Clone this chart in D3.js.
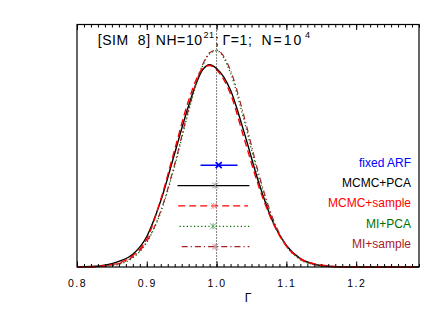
<!DOCTYPE html>
<html lang="en">
<head>
<meta charset="UTF-8">
<title>SIM 8</title>
<script src="https://d3js.org/d3.v7.min.js"></script>
<style>
    body {
        margin: 0;
        background-color: #fff;
    }
    svg {
        display: block;
        font-family: "Liberation Sans", Arial, sans-serif;
    }
    .tick text {
        font-size: 10.5px;
        letter-spacing: 1.5px;
    }
</style>
</head>
<body>
<div id="chart"></div>
<script>
    // Γ grid the curves were read on
    const gammaGrid = [0.80, 0.82, 0.84, 0.86, 0.88, 0.90, 0.92, 0.94, 0.96, 0.98, 0.99, 1.00, 1.02, 1.04,
                       1.06, 1.08, 1.10, 1.12, 1.14, 1.16, 1.18, 1.20, 1.22, 1.24, 1.26, 1.28, 1.29];

    // posterior densities
    const mcmcPca    = [0.004, 0.019, 0.07, 0.22, 0.50, 1.20, 2.60, 4.47, 6.35, 7.75, 7.95, 7.80, 6.95, 5.24,
                        3.35, 1.82, 0.85, 0.33, 0.11, 0.03, 0.008, 0, 0, 0, 0, 0, 0];
    const mcmcSample = [0.003, 0.012, 0.05, 0.16, 0.45, 1.10, 2.65, 4.62, 6.55, 7.80, 7.92, 7.75, 6.80, 5.00,
                        3.20, 1.78, 0.82, 0.33, 0.12, 0.04, 0.01, 0, 0, 0, 0, 0, 0];
    const miPca      = [0, 0.005, 0.03, 0.11, 0.36, 0.97, 2.15, 3.97, 6.13, 7.90, 8.38, 8.50, 7.62, 5.70,
                        3.56, 1.86, 0.81, 0.29, 0.09, 0.02, 0, 0, 0, 0, 0, 0, 0];
    const miSample   = [0, 0.008, 0.04, 0.13, 0.40, 1.00, 2.20, 4.05, 6.20, 7.95, 8.42, 8.52, 7.72, 5.85,
                        3.70, 1.95, 0.85, 0.30, 0.10, 0.03, 0, 0, 0, 0, 0, 0, 0];

    // error bars (best fit and interval) per method
    const methods   = ["fixed ARF", "MCMC+PCA", "MCMC+sample", "MI+PCA", "MI+sample"];
    const bestFit   = [1.003, 0.998, 0.996, 0.995, 0.998];
    const lowBound  = [0.977, 0.944, 0.945, 0.947, 0.950];
    const highBound = [1.030, 1.047, 1.045, 1.047, 1.047];
    const rowLevel  = [4.0, 3.2, 2.4, 1.6, 0.8];

    const majorTicks = [0.8, 0.9, 1.0, 1.1, 1.2];
    const trueGamma = 1.0;

    const width = 443;
    const height = 317;
    const margin = {top: 24.5, right: 24, bottom: 50, left: 77};

    const colors = ["#0000ff", "#000000", "#ff0000", "#007000", "#a8202a"];
    const markColors = ["#0000ff", "#999999", "#ff8a8a", "#6aaa6a", "#d08a8a"];
    const dashes = [null, null, "7,4", "1.2,2.4", "6,3,1.2,3"];

    const x = d3.scaleLinear()
        .domain([0.8, 1.29])
        .range([margin.left, width - margin.right]);

    const y = d3.scaleLinear()
        .domain([0, 9.53])
        .range([height - margin.bottom, margin.top]);

    const svg = d3.select("#chart")
        .append("svg")
        .attr("width", width)
        .attr("height", height);

    // curves
    const curves = [
        {values: mcmcPca, color: colors[1], dash: null, w: 1.4},
        {values: miPca, color: colors[3], dash: dashes[3], w: 1.3},
        {values: miSample, color: colors[4], dash: dashes[4], w: 1.2},
        {values: mcmcSample, color: colors[2], dash: dashes[2], w: 1.4}
    ];

    const line = d3.line()
        .x(d => x(d[0]))
        .y(d => y(d[1]))
        .curve(d3.curveMonotoneX);

    curves.forEach(c => {
        svg.append("path")
            .datum(gammaGrid.map((g, i) => [g, c.values[i]]))
            .attr("d", line)
            .attr("fill", "none")
            .attr("stroke", c.color)
            .attr("stroke-width", c.w)
            .attr("stroke-dasharray", c.dash);
    });

    // true value
    svg.append("line")
        .attr("x1", x(trueGamma)).attr("x2", x(trueGamma))
        .attr("y1", y.range()[1]).attr("y2", y.range()[0])
        .attr("stroke", "#000")
        .attr("stroke-width", 1)
        .attr("stroke-dasharray", "1,2");

    // error bars
    methods.forEach((m, i) => {
        const yy = y(rowLevel[i]);
        svg.append("line")
            .attr("x1", x(lowBound[i])).attr("x2", x(highBound[i]))
            .attr("y1", yy).attr("y2", yy)
            .attr("stroke", colors[i])
            .attr("stroke-width", i === 0 ? 1.6 : 1.3)
            .attr("stroke-dasharray", dashes[i]);

        const cx = x(bestFit[i]);
        const s = 3;
        const mark = svg.append("g")
            .attr("stroke", markColors[i])
            .attr("stroke-width", i === 0 ? 1.8 : 1);
        mark.append("line").attr("x1", cx - s).attr("x2", cx + s).attr("y1", yy - s).attr("y2", yy + s);
        mark.append("line").attr("x1", cx - s).attr("x2", cx + s).attr("y1", yy + s).attr("y2", yy - s);
        if (i > 0) {
            mark.append("line").attr("x1", cx).attr("x2", cx).attr("y1", yy - s).attr("y2", yy + s);
        }

        svg.append("text")
            .attr("x", width - margin.right - 8)
            .attr("y", yy + 1.5)
            .attr("text-anchor", "end")
            .attr("font-size", "12px")
            .attr("fill", colors[i])
            .text(m);
    });

    // axes
    const minorTicks = d3.range(80, 130).map(v => v / 100);

    svg.append("g")
        .attr("transform", `translate(0,${y.range()[0]})`)
        .call(d3.axisBottom(x).tickValues(minorTicks).tickSize(-3).tickFormat(""))
        .call(g => g.select(".domain").remove());

    svg.append("g")
        .attr("transform", `translate(0,${y.range()[0]})`)
        .call(d3.axisBottom(x).tickValues(majorTicks).tickSizeInner(-5.5).tickSizeOuter(0)
            .tickPadding(13).tickFormat(d3.format(".1f")))
        .call(g => g.select(".domain").remove());

    svg.append("g")
        .attr("transform", `translate(0,${y.range()[1]})`)
        .call(d3.axisTop(x).tickValues(minorTicks).tickSize(-3).tickFormat(""))
        .call(g => g.select(".domain").remove());

    svg.append("g")
        .attr("transform", `translate(0,${y.range()[1]})`)
        .call(d3.axisTop(x).tickValues(majorTicks).tickSize(-5.5).tickFormat(""))
        .call(g => g.select(".domain").remove());

    svg.selectAll(".tick line").attr("stroke-width", 1);

    // frame
    svg.append("rect")
        .attr("x", x.range()[0])
        .attr("y", y.range()[1])
        .attr("width", x.range()[1] - x.range()[0])
        .attr("height", y.range()[0] - y.range()[1])
        .attr("fill", "none")
        .attr("stroke", "#000")
        .attr("stroke-width", 1.2);

    svg.append("text")
        .attr("x", (x.range()[0] + x.range()[1]) / 2)
        .attr("y", 302)
        .attr("text-anchor", "middle")
        .attr("font-size", "12px")
        .text("Γ");

    // title, pieces placed to follow the wide spacing of the original
    const title = svg.append("text")
        .attr("y", 45)
        .attr("font-size", "14px")
        .attr("letter-spacing", "0.6px");
    title.append("tspan").attr("x", 97.7).text("[SIM\u00a0\u00a08]");
    title.append("tspan").attr("x", 155.7).text("NH=10");
    title.append("tspan").attr("x", 203.5).attr("font-size", "9px").attr("dy", -7.5).text("21");
    title.append("tspan").attr("x", 215).attr("dy", 7.5).text(";");
    title.append("tspan").attr("x", 222.5).text("Γ=1;");
    title.append("tspan").attr("x", 261.5).attr("letter-spacing", "2px").text("N=10");
    title.append("tspan").attr("x", 305).attr("font-size", "9px").attr("dy", -7.5).text("4");
</script>
</body>
</html>
